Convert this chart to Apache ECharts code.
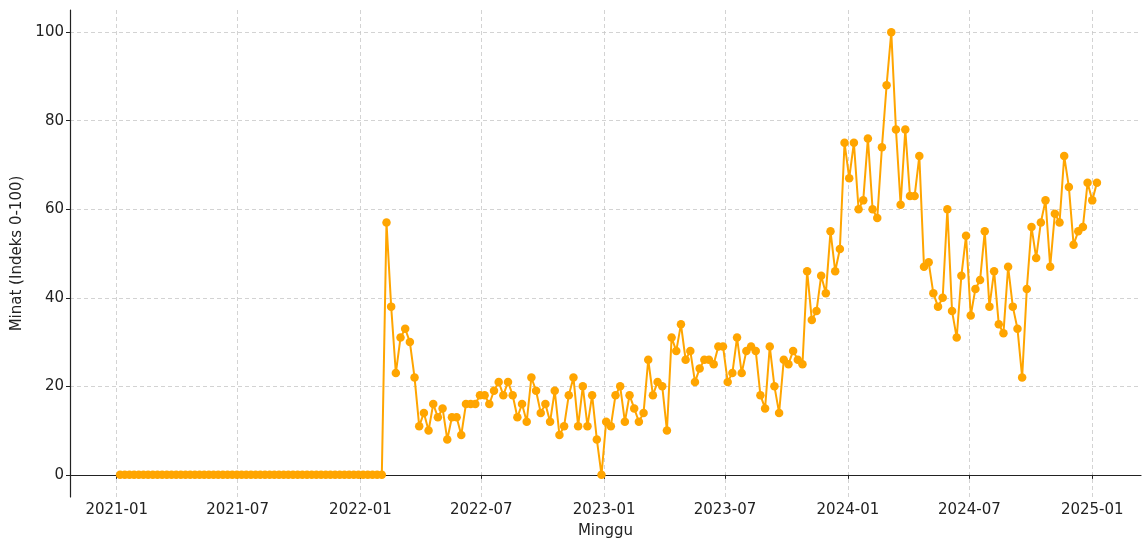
<!DOCTYPE html>
<html>
<head>
<meta charset="utf-8">
<script src="https://cdn.jsdelivr.net/npm/echarts@6/dist/echarts.min.js"></script>
<style>
  html, body { margin: 0; padding: 0; background: #fff; }
  #chart { width: 1142px; height: 541px; }
</style>
</head>
<body>
<div id="chart"></div>
<script>
// weekly series, date of the first week
const firstWeek = '2021-01-06'

// Minat (Indeks 0-100), one value per week
const interestValues = [
  0, 0, 0, 0, 0, 0, 0, 0, 0, 0, 0, 0, 0, 0, 0, 0, 0, 0, 0,
  0, 0, 0, 0, 0, 0, 0, 0, 0, 0, 0, 0, 0, 0, 0, 0, 0, 0, 0,
  0, 0, 0, 0, 0, 0, 0, 0, 0, 0, 0, 0, 0, 0, 0, 0, 0, 0, 0,
  57, 38, 23, 31, 33, 30, 22, 11, 14, 10,
  16, 13, 15, 8, 13, 13, 9, 16, 16, 16,
  18, 18, 16, 19, 21, 18, 21, 18, 13, 16,
  12, 22, 19, 14, 16, 12, 19, 9, 11, 18,
  22, 11, 20, 11, 18, 8, 0, 12, 11, 18,
  20, 12, 18, 15, 12, 14, 26, 18, 21, 20,
  10, 31, 28, 34, 26, 28, 21, 24, 26, 26,
  25, 29, 29, 21, 23, 31, 23, 28, 29, 28,
  18, 15, 29, 20, 14, 26, 25, 28, 26, 25,
  46, 35, 37, 45, 41, 55, 46, 51, 75, 67,
  75, 60, 62, 76, 60, 58, 74, 88, 100, 78,
  61, 78, 63, 63, 72, 47, 48, 41, 38, 40,
  60, 37, 31, 45, 54, 36, 42, 44, 55, 38,
  46, 34, 32, 47, 38, 33, 22, 42, 56, 49,
  57, 62, 47, 59, 57, 72, 65, 52, 55, 56,
  66, 62, 66
]

const xTickLabels = ['2021-01', '2021-07', '2022-01', '2022-07', '2023-01',
  '2023-07', '2024-01', '2024-07', '2025-01']
const yTicks = [0, 20, 40, 60, 80, 100]

const DAY = 86400000
const toTime = s => {
  const [y, m, d] = s.split('-').map(Number)
  return Date.UTC(y, m - 1, d || 1)
}

const start = toTime(firstWeek)
const seriesData = interestValues.map((v, i) => [start + i * 7 * DAY, v])
const xTicks = xTickLabels.map(toTime)
const pad2 = n => (n < 10 ? '0' : '') + n

const textColor = '#222'
const gridLine = {
  show: true,
  lineStyle: { color: '#c8c8c8', type: [4, 3], width: 0.8 }
}

const chart = echarts.init(document.getElementById('chart'))
chart.setOption({
  animation: false,
  backgroundColor: '#fff',
  textStyle: { fontFamily: 'DejaVu Sans' },
  grid: {
    left: 70,
    right: 1,
    top: 10,
    bottom: 44,
    outerBoundsMode: 'none'
  },
  xAxis: {
    type: 'value',
    min: toTime('2020-10-23'),
    max: toTime('2025-03-15'),
    name: 'Minggu',
    nameLocation: 'middle',
    nameGap: 27,
    nameTextStyle: { fontSize: 15, color: textColor },
    axisLine: { lineStyle: { color: '#222', width: 1.2 } },
    axisTick: {
      show: true,
      inside: false,
      length: 4,
      customValues: xTicks,
      lineStyle: { color: '#222' }
    },
    axisLabel: {
      customValues: xTicks,
      margin: 6,
      fontSize: 15,
      color: textColor,
      formatter: v => {
        const d = new Date(v)
        return d.getUTCFullYear() + '-' + pad2(d.getUTCMonth() + 1)
      }
    },
    splitLine: gridLine
  },
  yAxis: {
    type: 'value',
    min: -5,
    max: 105,
    name: 'Minat (Indeks 0-100)',
    nameLocation: 'middle',
    nameGap: 41,
    nameTextStyle: { fontSize: 15, color: textColor },
    axisLine: { show: true, lineStyle: { color: '#222', width: 1.2 } },
    axisTick: {
      show: true,
      inside: false,
      length: 4,
      customValues: yTicks,
      lineStyle: { color: '#222' }
    },
    axisLabel: {
      customValues: yTicks,
      margin: 6,
      fontSize: 15,
      color: textColor
    },
    splitLine: gridLine
  },
  series: [{
    name: 'Minat',
    type: 'line',
    data: seriesData,
    symbol: 'circle',
    symbolSize: 8.5,
    showAllSymbol: true,
    color: '#FFA500',
    lineStyle: { color: '#FFA500', width: 2 },
    itemStyle: { color: '#FFA500' }
  }]
})
</script>
</body>
</html>
